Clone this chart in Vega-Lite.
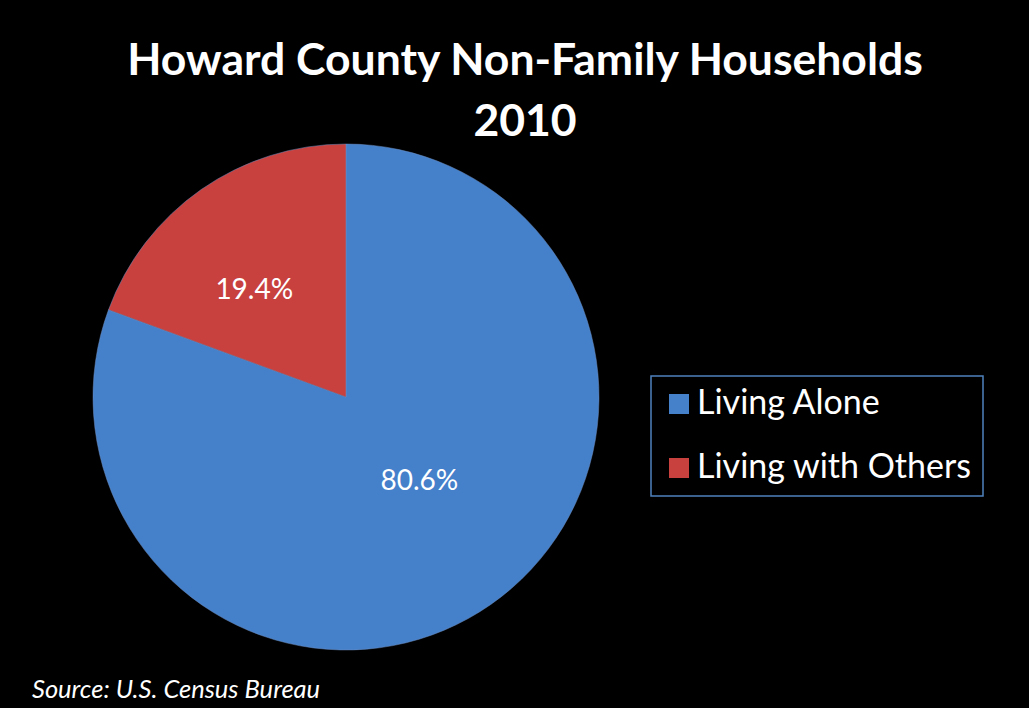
{
  "$schema": "https://vega.github.io/schema/vega-lite/v6.json",
  "background": "#000000",
  "padding": {"left": 32, "top": 38, "right": 120, "bottom": 30},
  "title": {
    "text": "Source: U.S. Census Bureau",
    "orient": "bottom",
    "anchor": "start",
    "dx": -59,
    "offset": 26,
    "font": "Lato",
    "fontStyle": "italic",
    "fontWeight": "normal",
    "fontSize": 25.5,
    "color": "#ffffff"
  },
  "vconcat": [
    {
      "width": 510,
      "height": 510,
      "title": {
        "text": ["Howard County Non-Family Households", "2010"],
        "anchor": "middle",
        "dx": 179,
        "offset": -3,
        "font": "Lato",
        "fontWeight": "bold",
        "fontSize": 44.5,
        "lineHeight": 61,
        "color": "#ffffff"
      },
      "data": {
        "values": [
          {"category": "Living Alone", "share": 0.806},
          {"category": "Living with Others", "share": 0.194}
        ]
      },
      "encoding": {
        "theta": {"field": "share", "type": "quantitative", "stack": true},
        "order": {"field": "category", "type": "ordinal", "sort": "ascending"},
        "color": {
          "field": "category",
          "type": "nominal",
          "scale": {"domain": ["Living Alone", "Living with Others"], "range": ["#4580cb", "#c8413f"]},
          "legend": {
            "orient": "none",
            "legendX": 560,
            "legendY": 234,
            "title": null,
            "symbolType": "square",
            "symbolSize": 400,
            "symbolStrokeWidth": 0,
            "labelFont": "Lato",
            "labelFontSize": 34,
            "labelColor": "#ffffff",
            "labelOffset": 1,
            "labelLimit": 500,
            "rowPadding": 30,
            "padding": 11,
            "strokeColor": "#4f81bd",
            "fillColor": "#000000"
          }
        }
      },
      "layer": [
        {"mark": {"type": "arc", "outerRadius": 253, "stroke": "#6d8fc0", "strokeWidth": 0.5}},
        {
          "mark": {"type": "text", "radius": 112, "thetaOffset": -0.105, "font": "Lato", "fontSize": 28},
          "encoding": {
            "text": {"field": "share", "type": "quantitative", "format": ".1%"},
            "color": {"value": "#ffffff"},
            "detail": {"field": "category", "type": "nominal"},
            "opacity": {"condition": {"test": "datum.category === 'Living Alone'", "value": 1}, "value": 0}
          }
        },
        {
          "mark": {"type": "text", "radius": 140, "thetaOffset": -0.105, "font": "Lato", "fontSize": 28},
          "encoding": {
            "text": {"field": "share", "type": "quantitative", "format": ".1%"},
            "color": {"value": "#ffffff"},
            "detail": {"field": "category", "type": "nominal"},
            "opacity": {"condition": {"test": "datum.category === 'Living with Others'", "value": 1}, "value": 0}
          }
        }
      ]
    }
  ],
  "config": {"view": {"stroke": null}, "legend": {"strokeWidth": 1.5}}
}
